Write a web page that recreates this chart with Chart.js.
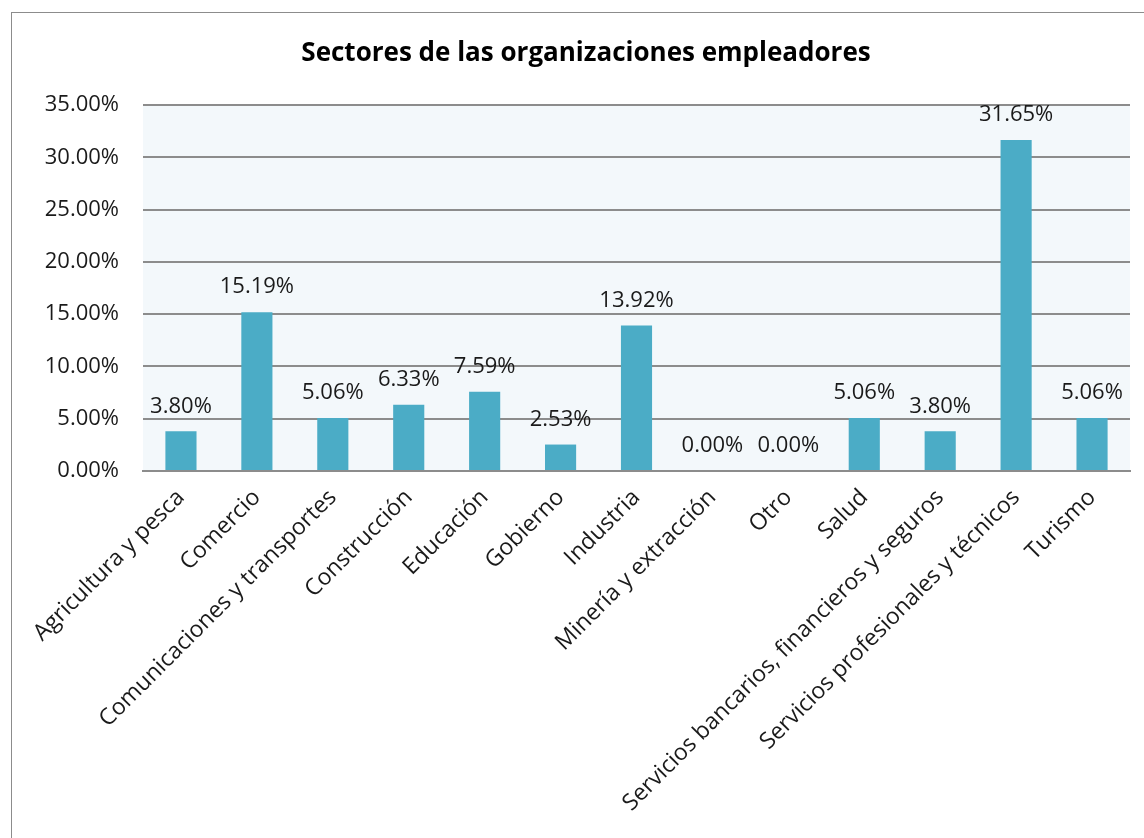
<!DOCTYPE html>
<html>
<head>
<meta charset="utf-8">
<script src="https://cdn.jsdelivr.net/npm/chart.js@4"></script>
<style>
  body { margin: 0; background: #fff; }
</style>
</head>
<body>
<canvas id="chart" width="1144" height="838"></canvas>
<script>
const titulo = 'Sectores de las organizaciones empleadores';
const sectores = [
  'Agricultura y pesca', 'Comercio', 'Comunicaciones y transportes', 'Construcción',
  'Educación', 'Gobierno', 'Industria', 'Minería y extracción', 'Otro', 'Salud',
  'Servicios bancarios, financieros y seguros', 'Servicios profesionales y técnicos', 'Turismo'
];
const porcentajes = [3.80, 15.19, 5.06, 6.33, 7.59, 2.53, 13.92, 0.00, 0.00, 5.06, 3.80, 31.65, 5.06];
const yTicks = [0, 5, 10, 15, 20, 25, 30, 35];

const FONT = "'Open Sans', sans-serif";

// fondo del area de trazado, borde exterior y titulo
const fondo = {
  id: 'fondo',
  beforeDraw(chart) {
    const { ctx, chartArea: a } = chart;
    ctx.save();
    ctx.fillStyle = '#f3f8fb';
    ctx.fillRect(a.left, a.top, a.right - a.left, a.bottom - a.top);
    ctx.strokeStyle = '#8c8c8c';
    ctx.lineWidth = 1;
    ctx.strokeRect(11.5, 12.5, 1300, 1000);
    // titulo centrado sobre el marco del grafico
    ctx.font = 'bold 26px ' + FONT;
    ctx.fillStyle = '#000';
    ctx.textAlign = 'center';
    ctx.textBaseline = 'middle';
    ctx.fillText(titulo, 586, 54);
    ctx.restore();
  }
};

// etiquetas de valor sobre cada barra
const etiquetas = {
  id: 'etiquetas',
  afterDatasetsDraw(chart) {
    const { ctx } = chart;
    const meta = chart.getDatasetMeta(0);
    ctx.save();
    ctx.font = '22px ' + FONT;
    ctx.fillStyle = '#1a1a1a';
    ctx.textAlign = 'center';
    ctx.textBaseline = 'bottom';
    meta.data.forEach((bar, i) => {
      ctx.fillText(porcentajes[i].toFixed(2) + '%', bar.x, bar.y - 14);
    });
    ctx.restore();
  }
};

new Chart(document.getElementById('chart'), {
  type: 'bar',
  data: {
    labels: sectores,
    datasets: [{
      data: porcentajes,
      backgroundColor: '#4bacc6',
      barPercentage: 0.41,
      categoryPercentage: 1.0
    }]
  },
  options: {
    responsive: false,
    animation: false,
    layout: { padding: { left: 0, right: 14, top: 105, bottom: 0 } },
    plugins: {
      legend: { display: false },
      tooltip: { enabled: false },
      title: { display: false }
    },
    scales: {
      y: {
        min: 0,
        max: 35,
        afterBuildTicks(scale) {
          scale.ticks = yTicks.map(v => ({ value: v }));
        },
        afterFit(scale) { scale.width = 143; },
        border: { display: false },
        grid: { color: '#8c8c8c', lineWidth: 2, drawTicks: false },
        ticks: {
          padding: 24,
          color: '#1a1a1a',
          font: { family: FONT, size: 22 },
          callback: v => v.toFixed(2) + '%'
        }
      },
      x: {
        afterFit(scale) { scale.height = 367; },
        border: { display: true, color: '#8c8c8c', width: 2 },
        grid: { display: false },
        ticks: {
          maxRotation: 45,
          minRotation: 45,
          autoSkip: false,
          padding: 5,
          color: '#1a1a1a',
          font: { family: FONT, size: 23 }
        }
      }
    }
  },
  plugins: [fondo, etiquetas]
});
</script>
</body>
</html>
